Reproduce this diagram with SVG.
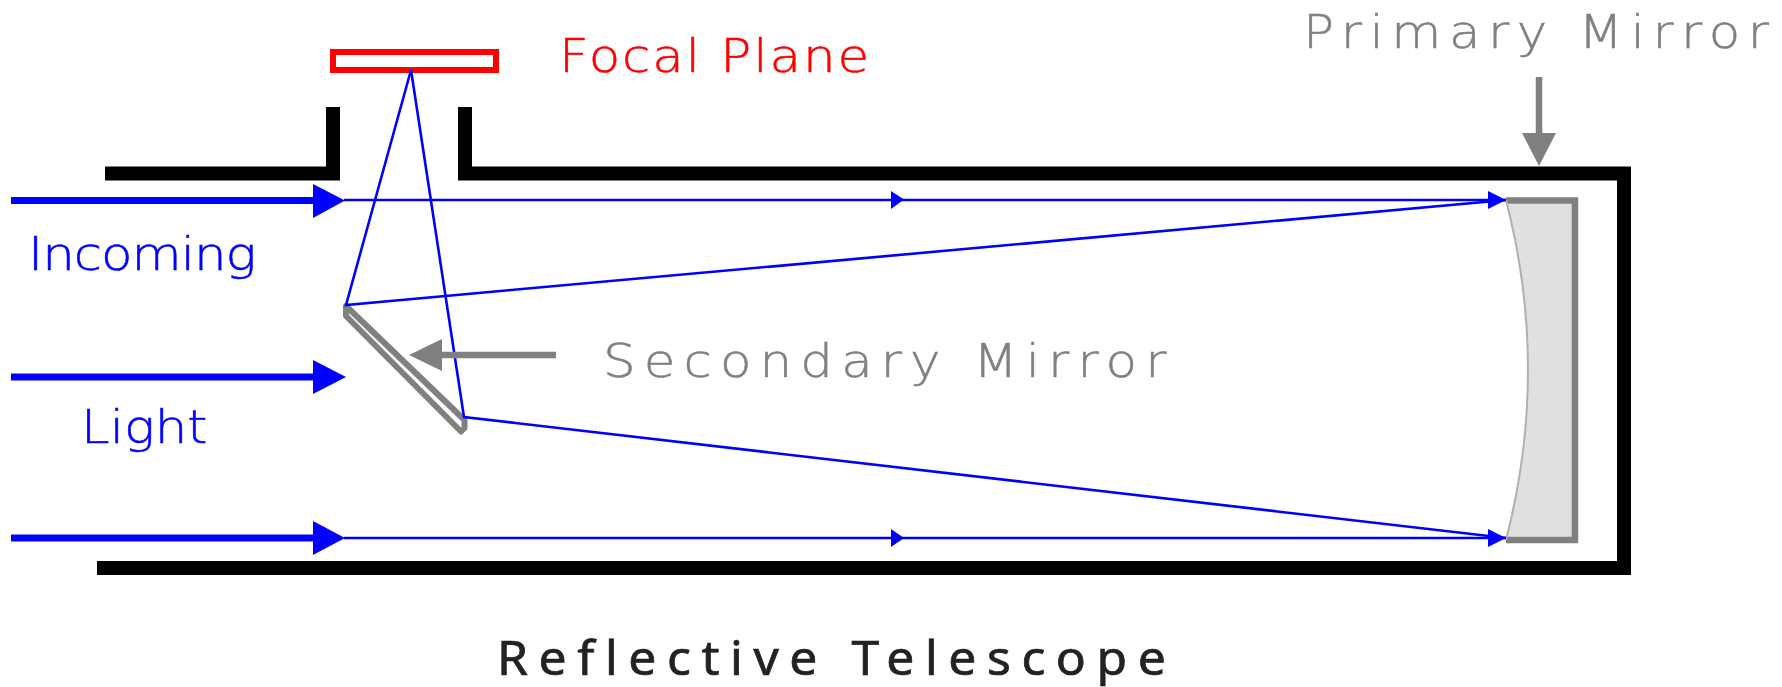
<svg xmlns="http://www.w3.org/2000/svg" width="1782" height="687" viewBox="0 0 1782 687">
<style>
.t{font-family:"DejaVu Sans ExtraLight","DejaVu Sans",sans-serif;font-size:46px;font-weight:200;stroke-width:.5;font-variant-ligatures:none}
.blue{fill:#00f}.gray{fill:#808080}.red{fill:#f00}
text.blue{stroke:#00f}text.gray{stroke:#808080}text.red{stroke:#f00}
.ray{fill:none;stroke:#00f;stroke-width:2.6}
.beam{fill:none;stroke:#00f;stroke-width:7}
.tube{fill:none;stroke:#000;stroke-width:14}
.pointer{fill:none;stroke:#808080;stroke-width:6.5}
</style>
<defs>
<filter id="soft" filterUnits="userSpaceOnUse" x="0" y="0" width="1782" height="687"><feGaussianBlur stdDeviation="0.6"/></filter>
</defs>
<rect width="1782" height="687" fill="#fff"/>
<g id="telescope-tube" filter="url(#soft)">
<path class="tube" d="M105 173.500H333V107"/>
<path class="tube" d="M465 107V173.500H1624V568H97"/>
</g>
<g id="focal-plane" filter="url(#soft)">
<rect x="333" y="52" width="163" height="18" fill="#fff" stroke="#f00" stroke-width="6"/>
<text class="t red" transform="translate(559 72) scale(1.12 1)" textLength="277" lengthAdjust="spacing">Focal Plane</text>
</g>
<g id="primary-mirror" filter="url(#soft)">
<path d="M1506 200H1575.500V540H1506Q1550 370 1506 200Z" fill="#e0e0e0"/>
<path d="M1506 200.500H1575V540H1506" fill="none" stroke="#808080" stroke-width="6.500"/>
<path d="M1506 200Q1550 370 1506 540" fill="none" stroke="#b0b0b0" stroke-width="2"/>
<text class="t gray" transform="translate(1303 48) scale(1.12 1)" textLength="416" lengthAdjust="spacing">Primary Mirror</text>
</g>
<g id="secondary-mirror" filter="url(#soft)">
<path d="M346 306V316L461 431.500L464.500 428V420Z" fill="#fff" stroke="#808080" stroke-width="6" stroke-linejoin="round"/>
<text class="t gray" transform="translate(603 377) scale(1.12 1)" textLength="503" lengthAdjust="spacing">Secondary Mirror</text>
</g>
<g id="incoming-light" filter="url(#soft)">
<text class="t blue" transform="translate(28 270) scale(1.12 1)" textLength="204" lengthAdjust="spacing">Incoming</text>
<text class="t blue" transform="translate(81 443) scale(1.12 1)" textLength="113" lengthAdjust="spacing">Light</text>
</g>
<g id="connectors" filter="url(#soft)">
<path class="beam" d="M11 200.500H316"/>
<path class="beam" d="M11 377H316"/>
<path class="beam" d="M11 538H316"/>
<path class="blue" d="M313 184L345 200.500L313 218Z"/>
<path class="blue" d="M313 360L346 377L313 394Z"/>
<path class="blue" d="M313 521L345 538L313 555Z"/>
<path class="ray" d="M344 200H1506"/>
<path class="ray" d="M344 538H1506"/>
<path class="ray" d="M411 70L346 305L1506 200"/>
<path class="ray" d="M411 70L464 417L1506 538"/>
<path class="blue" d="M891 191L904 199.500L891 209Z"/>
<path class="blue" d="M891 529L904 538L891 547Z"/>
<path class="blue" d="M1488 191L1506 200L1488 209Z"/>
<path class="blue" d="M1488 529L1506 538L1488 547Z"/>
<path class="pointer" d="M1539 77V136"/>
<path class="gray" d="M1522 133H1556L1539 166Z"/>
<path class="pointer" d="M556 355H440"/>
<path class="gray" d="M442 339V371L409 355Z"/>
</g>
<g id="caption" filter="url(#soft)">
<text transform="translate(497 675) scale(1.06 1)" textLength="631" lengthAdjust="spacing" font-family="'Noto Sans','Open Sans',sans-serif" font-size="47" fill="#222" stroke="#222" stroke-width=".7" style="font-variant-ligatures:none">Reflective Telescope</text>
</g>
</svg>
